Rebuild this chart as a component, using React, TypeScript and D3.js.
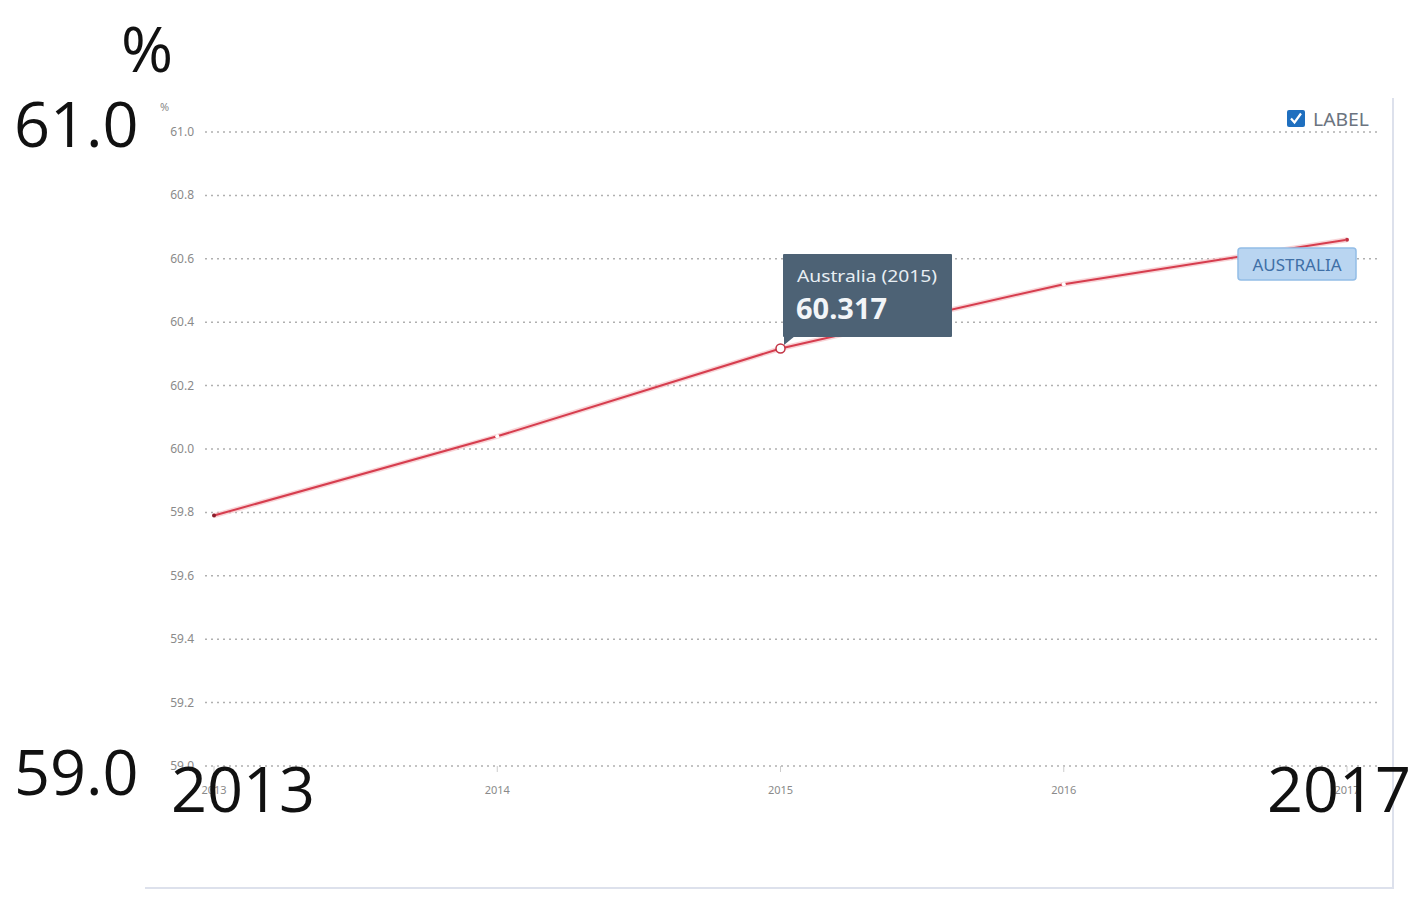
import React from "react";
import * as d3 from "d3";

const years = [2013, 2014, 2015, 2016, 2017];
const values = [59.79, 60.04, 60.317, 60.52, 60.66];
const yTicks = [61.0, 60.8, 60.6, 60.4, 60.2, 60.0, 59.8, 59.6, 59.4, 59.2, 59.0];
const seriesName = "Australia";
const tooltipYear = 2015;
const tooltipValue = "60.317";

export default function App() {
  const W = 1428, H = 914;
  const x = d3.scaleLinear().domain([2013, 2017]).range([214, 1347]);
  const y = d3.scaleLinear().domain([59, 61]).range([766, 132]);
  const line = d3.line<number>().x((_, i) => x(years[i])).y((d) => y(d));
  const path = line(values) || "";
  const ti = years.indexOf(tooltipYear);
  const tx = x(tooltipYear), ty = y(values[ti]);
  const lastX = x(years[years.length - 1]), lastY = y(values[values.length - 1]);
  const big = { fontFamily: "'Open Sans', 'Noto Sans', sans-serif", fontSize: 63, fill: "#111" } as const;
  return (
    <svg width={W} height={H} style={{ position: "absolute", left: 0, top: 0, background: "#fff" }}
      fontFamily="'Noto Sans', sans-serif">
      {/* card border */}
      <path d={`M145,888 L1393,888 L1393,98`} fill="none" stroke="#dde1ec" strokeWidth={2} />
      {/* gridlines */}
      {yTicks.map((t) => (
        <g key={t}>
          <line x1={205} x2={1380} y1={y(t)} y2={y(t)} stroke="#b0b0b0" strokeWidth={1.5} strokeDasharray="2,4" />
          <text x={194} y={y(t) + 4} textAnchor="end" fontSize={12} fill="#8a8a8a">{t.toFixed(1)}</text>
        </g>
      ))}
      <text x={160} y={111} fontSize={11} fill="#8a8a8a">%</text>
      {years.map((yr) => (
        <g key={yr}>
          <line x1={x(yr)} x2={x(yr)} y1={766} y2={772} stroke="#ccc" strokeWidth={1} />
          <text x={x(yr)} y={794} textAnchor="middle" fontSize={11} fill="#8a8a8a">{yr}</text>
        </g>
      ))}
      {/* series */}
      <path d={path} fill="none" stroke="#f4b8bd" strokeWidth={5} opacity={0.6} />
      <path d={path} fill="none" stroke="#d63d4e" strokeWidth={2} />
      {years.map((yr, i) => i !== ti && i !== 0 && (
        <circle key={yr} cx={x(yr)} cy={y(values[i])} r={2} fill="#fff" />
      ))}
      <circle cx={x(years[0])} cy={y(values[0])} r={2} fill="#8a1f2c" />
      <circle cx={tx} cy={ty} r={4.5} fill="#fff" stroke="#c23344" strokeWidth={1.5} />
      {/* tooltip */}
      <g>
        <rect x={783} y={254} width={169} height={83} fill="#4d6275" rx={1} />
        <path d={`M784,336 L784,345 L795,336 Z`} fill="#4d6275" />
        <text x={797} y={282} fontSize={17} fill="#e8eef3" textLength={140} lengthAdjust="spacingAndGlyphs">{`${seriesName} (${tooltipYear})`}</text>
        <text x={796} y={319} fontSize={29} fontWeight="bold" fill="#f2f5f8">{tooltipValue}</text>
      </g>
      {/* series label */}
      <rect x={1238} y={248} width={118} height={32} rx={3} fill="#b9d5f1" stroke="#93bde6" strokeWidth={1.5} />
      <text x={1297} y={271} textAnchor="middle" fontSize={16} fill="#3f6fa6" textLength={89} lengthAdjust="spacingAndGlyphs">{seriesName.toUpperCase()}</text>
      <circle cx={lastX} cy={lastY} r={2} fill="#c23344" />
      {/* LABEL checkbox */}
      <rect x={1287} y={110} width={18} height={17} rx={2} fill="#1f6fbf" />
      <path d="M1291,118.5 L1294.5,122.5 L1301,113.5" fill="none" stroke="#fff" strokeWidth={2.2} />
      <text x={1313} y={126} fontSize={18} fill="#6b7480" textLength={56} lengthAdjust="spacingAndGlyphs">LABEL</text>
      {/* annotations */}
      <text x={147} y={72} textAnchor="middle" {...big}>%</text>
      <text x={14} y={147} {...big}>61.0</text>
      <text x={14} y={795} {...big}>59.0</text>
      <text x={171} y={812} {...big}>2013</text>
      <text x={1267} y={812} {...big}>2017</text>
    </svg>
  );
}
